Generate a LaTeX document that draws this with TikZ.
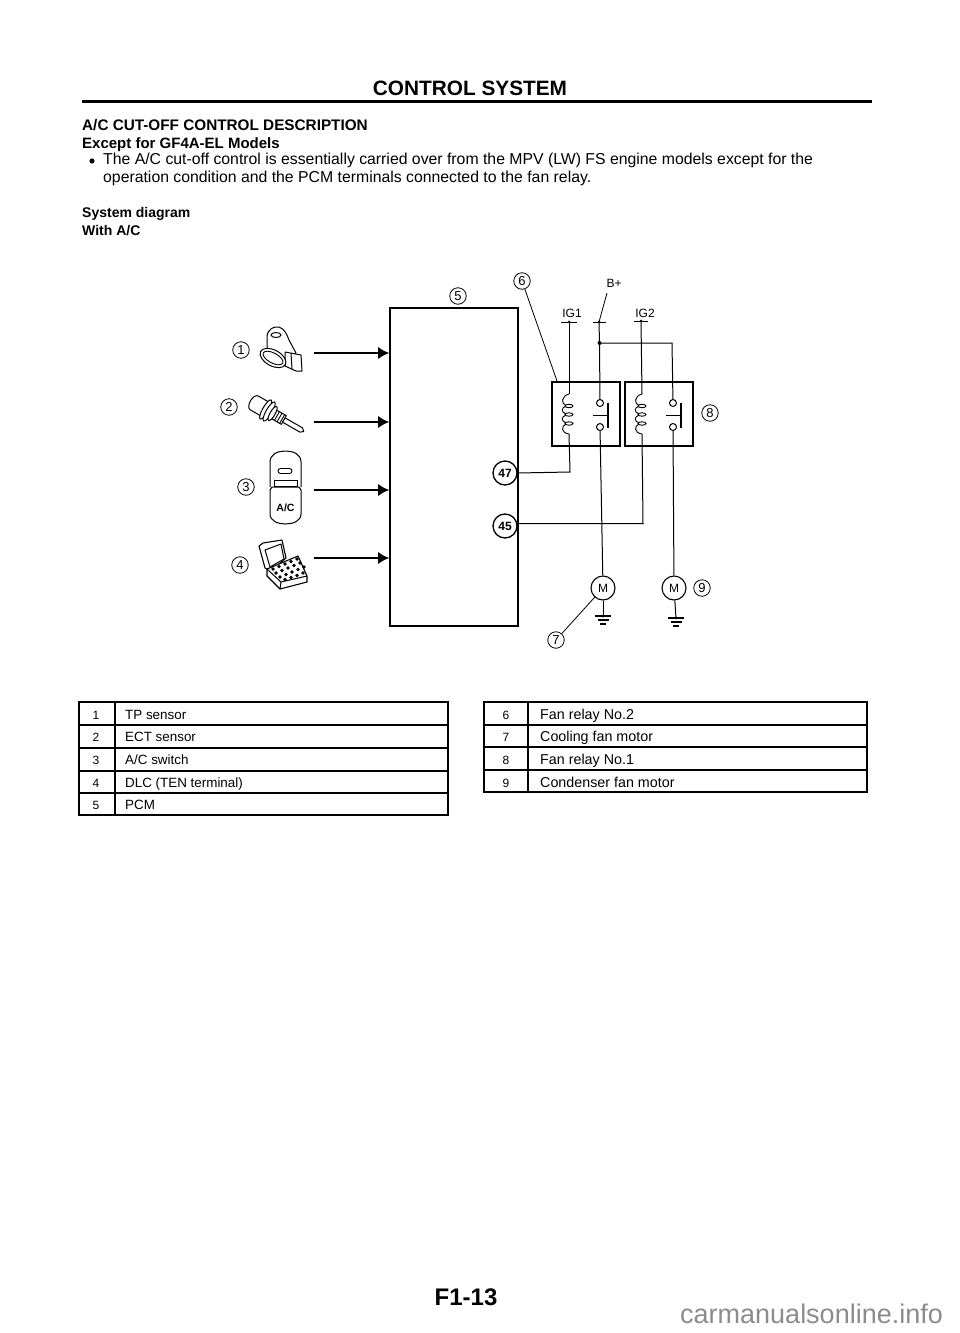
\documentclass[tikz,border=0pt]{standalone}
\usepackage{fontspec}
\setmainfont{Liberation Sans}
\usetikzlibrary{arrows.meta,calc}
\tikzset{
 body/.style={font=\fontsize{15.8}{18}\selectfont,anchor=base west,inner sep=0pt},
 bodyb/.style={font=\fontsize{15.3}{18}\bfseries\selectfont,anchor=base west,inner sep=0pt},
 bodyc/.style={font=\fontsize{14}{16}\bfseries\selectfont,anchor=base west,inner sep=0pt},
 cell/.style={font=\fontsize{13.4}{15}\selectfont,anchor=base west,inner sep=0pt},
 cellr/.style={font=\fontsize{14.3}{15}\selectfont,anchor=base west,inner sep=0pt},
 celln/.style={font=\fontsize{12}{15}\selectfont,anchor=base,inner sep=0pt},
 numc/.style={draw,circle,line width=.8pt,minimum size=16.5pt,inner sep=0pt,font=\fontsize{13}{13}\selectfont},
 pinc/.style={draw,circle,line width=1.3pt,minimum size=24pt,inner sep=0pt,font=\fontsize{12}{12}\bfseries\selectfont},
 motorc/.style={draw,circle,line width=1.1pt,minimum size=24pt,inner sep=0pt,font=\fontsize{12}{12}\selectfont},
 contact/.style={draw,circle,line width=1pt,minimum size=7pt,inner sep=0pt,fill=white},
 relaybox/.style={draw,line width=1.3pt,inner sep=0pt},
 pcmbox/.style={draw,line width=1.6pt,inner sep=0pt},
 lab/.style={font=\fontsize{12}{12}\selectfont,inner sep=0pt},
 wire/.style={line width=1pt},
 lead/.style={line width=.8pt},
 sig/.style={line width=1.4pt,-{Latex[length=11pt,width=12pt]}},
 icon/.style={line width=1pt,fill=white,line join=round},
 gridl/.style={line width=1.2pt},
 gridh/.style={line width=1.5pt}
}
\newcommand{\coilat}[1]{%
 \begin{scope}[shift={(#1,0)},line width=.9pt]
  \draw (0,394) .. controls (-8,396) and (-8,404) .. (-3,405.5);
  \draw (-3,406) .. controls (-8,408) and (-8,412) .. (-3,414);
  \draw (-3,415) .. controls (-8,417) and (-8,421) .. (-3,423);
  \draw (-3,424) .. controls (-8,426) and (-8,433) .. (0,434);
  \draw (0,406) ellipse (4 and 1.7) (0,414.5) ellipse (4 and 1.7) (0,423.5) ellipse (4 and 1.7);
 \end{scope}}
\newcommand{\groundat}[2]{%
 \draw[line width=1.1pt] (#1-8,#2) -- (#1+8,#2);
 \draw[line width=1.1pt] (#1-5.5,#2+4) -- (#1+5.5,#2+4);
 \draw[line width=1.1pt] (#1-3,#2+8) -- (#1+3,#2+8);
 \fill (#1,#2) circle (1.5);}
\begin{document}
\begin{tikzpicture}[x=1pt,y=-1pt]
\useasboundingbox (0,0) rectangle (960,1333);
\fill[white] (0,0) rectangle (960,1333);
% header
\node[font=\fontsize{20.8}{24}\bfseries\selectfont,anchor=base,inner sep=0pt] (hdr) at (470,95) {CONTROL SYSTEM};
\coordinate (ruleL) at (82,101); \coordinate (ruleR) at (872,101);
\draw[line width=3pt] (ruleL) -- (ruleR);
\node[bodyb] (t1) at (82,130) {A/C CUT-OFF CONTROL DESCRIPTION};
\node[bodyb,font=\fontsize{15}{18}\bfseries\selectfont] (t2) at (82,148) {Except for GF4A-EL Models};
\fill (92,161) circle (2.6);
\node[body] (t3) at (103,164) {The A/C cut-off control is essentially carried over from the MPV (LW) FS engine models except for the};
\node[body] (t4) at (103,182) {operation condition and the PCM terminals connected to the fan relay.};
\node[bodyc] (t5) at (82,217) {System diagram};
\node[bodyc] (t6) at (82,235) {With A/C};
% PCM
\node[pcmbox,minimum width=128pt,minimum height=318pt] (pcm) at (454,467) {};
% icons
% 1 TP sensor
\draw[icon] (267,348) -- (267,336) .. controls (268,329) and (274,326) .. (279,327) .. controls (285,329) and (287,335) .. (289,340) -- (296,353) -- (280,360) -- cycle;
\draw[icon] (276,335) ellipse (5 and 2.5);
\draw[icon] (285,352) -- (301,355) -- (302,371) -- (296,371) -- (285,366) -- cycle;
\draw[line width=1pt] (291,353) -- (292,369);
\draw[icon,rotate around={-28:(273,358)}] (273,358) ellipse (14 and 8);
\draw[line width=.9pt,rotate around={-28:(273,358)}] (273,358) ellipse (11 and 5);
\coordinate (ic1) at (314,353);
% 2 ECT sensor
\begin{scope}[shift={(270,412)},rotate=-30]
 \draw[icon] (-5,-8) -- (-18,-8) .. controls (-24,-8) and (-24,8) .. (-18,8) -- (-5,8) -- cycle;
 \draw[icon] (3,-5) rectangle (16,5);
 \foreach \t in {5,8,11,14}{\draw[line width=.9pt] (\t,-5) -- (\t,5);}
 \draw[icon] (16,-2.5) -- (36,-2.5) -- (39,0) -- (36,2.5) -- (16,2.5) -- cycle;
 \draw[icon] (-5,0) ellipse (3 and 11);
 \draw[icon] (-1,0) ellipse (3 and 11);
 \draw[icon] (3,0) ellipse (2.5 and 8);
\end{scope}
\coordinate (ic2) at (314,422);
% 3 A/C switch
\draw[icon,line width=1pt] (270,487) -- (270,462) .. controls (270,454) and (278,451) .. (285.5,451) .. controls (293,451) and (301,454) .. (301,462) -- (301,487);
\draw[icon,line width=1pt] (270,490) -- (270,514) .. controls (270,521) and (278,524) .. (285.5,524) .. controls (293,524) and (301,521) .. (301,514) -- (301,490);
\draw[line width=1pt] (270,490) -- (272,487) -- (299,487) -- (301,490);
\draw[line width=.9pt,rounded corners=2.5pt] (278,468.5) rectangle (292,473.5);
\draw[line width=.9pt] (274,480) rectangle (297,486);
\node[font=\fontsize{10.5}{11}\bfseries\selectfont,inner sep=0pt] (acsw) at (285.5,508) {A/C};
\coordinate (ic3) at (314,490);
% 4 DLC
\draw[icon,line width=1.1pt] (259,546) -- (263,543) -- (282,540) -- (286,558) -- (271,571) -- (265,568) -- cycle;
\draw[icon] (265,550) -- (281,544) -- (284,559) -- (270,567) -- cycle;
\draw[icon,line width=1.1pt] (267,569) -- (298,556) -- (307,576) -- (307,582) -- (280,589) -- (267,576) -- cycle;
\draw[line width=1pt] (267,569) -- (281,582) -- (307,576);
\draw[line width=1pt] (281,582) -- (280,589);
\foreach \a/\b in {273/569,279/566.5,285/564,291/561.5,297/559,276/573,282/570.5,288/568,294/565.5,300/563,280/577,286/574.5,292/572,298/569.5,304/567,285/579.5,291/577.5,297/575.5,303/573}{
 \fill (\a,\b) circle (1.9);
}
\coordinate (ic4) at (314,558);
% arrows to PCM
\draw[sig] (ic1) -- (pcm.west |- ic1);
\draw[sig] (ic2) -- (pcm.west |- ic2);
\draw[sig] (ic3) -- (pcm.west |- ic3);
\draw[sig] (ic4) -- (pcm.west |- ic4);
% number circles
\node[numc] (n1) at (241,350) {1};
\node[numc] (n2) at (229,407) {2};
\node[numc] (n3) at (246,487) {3};
\node[numc] (n4) at (240,565) {4};
\node[numc] (n5) at (458,296) {5};
\node[numc] (n6) at (522,281) {6};
\node[numc] (n7) at (556,640) {7};
\node[numc] (n8) at (710,413) {8};
\node[numc] (n9) at (702,588) {9};
% relays
\node[relaybox,minimum width=68pt,minimum height=64pt] (r1) at (586,414) {};
\node[relaybox,minimum width=68pt,minimum height=64pt] (r2) at (659,414) {};
% supply labels
\node[lab] (ig1) at (572,313) {IG1};
\node[lab] (ig2) at (645,313) {IG2};
\node[lab] (bp) at (614,283) {B+};
\coordinate (ig1a) at (561,322); \coordinate (ig1b) at (577,322); \coordinate (ig1c) at (569,322);
\coordinate (ig2a) at (634,321); \coordinate (ig2b) at (648,321); \coordinate (ig2c) at (641,321);
\coordinate (bpa) at (593,322); \coordinate (bpb) at (606,322); \coordinate (bpc) at (599,322);
\coordinate (bpt) at (607,293);
\coordinate (junc) at (599.5,343);
\coordinate (jr) at (672,343);
\draw[wire] (ig1a) -- (ig1b);
\draw[wire] (ig2a) -- (ig2b);
\draw[wire] (bpa) -- (bpb);
\fill (ig1c) circle (1.5) (ig2c) circle (1.5) (bpc) circle (1.5);
\draw[lead] (bpt) -- (bpc);
% contacts
\node[contact] (c1t) at (600,403) {};
\node[contact] (c1b) at (600,427) {};
\node[contact] (c2t) at (673,403) {};
\node[contact] (c2b) at (673,427) {};
% motors
\node[motorc] (m1) at (603,588) {M};
\node[motorc] (m2) at (674,588) {M};
% pins
\node[pinc] (p47) at (505,473) {47};
\node[pinc] (p45) at (505,526) {45};
% wiring
\draw[wire] (ig1c) -- (569,394);
\coilat{569}
\draw[wire] (569,434) -- (570,472) -- (p47.east);
\draw[wire] (ig2c) -- (642,394);
\coilat{642}
\draw[wire] (642,434) -- (643,523.5) -- (pcm.east |- 0,523.5);
\draw[wire] (bpc) -- (junc) -- (c1t);
\draw[wire] (junc) -- (jr) -- (c2t);
\fill (junc) circle (2);
\draw[wire] (c1b) -- (m1);
\draw[wire] (c2b) -- (m2);
% switches
\draw[line width=1.3pt] (608,403) -- (608,428);
\draw[line width=1pt] (593,415) -- (608,415);
\draw[line width=1.3pt] (681,403) -- (681,428);
\draw[line width=1pt] (666,415) -- (681,415);
% grounds
\coordinate (g1) at (603,616); \coordinate (g2) at (676,618);
\draw[wire] (m1) -- (g1);
\draw[wire] (m2) -- (g2);
\groundat{603}{616}
\groundat{676}{618}
% leaders
\coordinate (r1tip) at (557,381);
\draw[lead] (n6) -- (r1tip);
\draw[lead] (n7) -- (m1);
% tables
\coordinate (la) at (79,702); \coordinate (lb) at (448,815);
\draw[gridh] (la) rectangle (lb);
\draw[gridl] (115,702) -- (115,815);
\foreach \y in {725,748,771}{\draw[gridl] (79,\y) -- (448,\y);}
\draw[gridh] (79,793) -- (448,793);
\draw[gridh] (484,702) rectangle (867,792);
\draw[gridl] (528,702) -- (528,792);
\foreach \y in {725,747,770}{\draw[gridl] (484,\y) -- (867,\y);}
\node[celln] (a1) at (96,719) {1}; \node[cell] (b1) at (125,719) {TP sensor};
\node[celln] (a2) at (96,741) {2}; \node[cell] (b2) at (125,741) {ECT sensor};
\node[celln] (a3) at (96,764) {3}; \node[cell] (b3) at (125,764) {A/C switch};
\node[celln] (a4) at (96,787) {4}; \node[cell] (b4) at (125,787) {DLC (TEN terminal)};
\node[celln] (a5) at (96,809) {5}; \node[cell] (b5) at (125,809) {PCM};
\node[celln] (a6) at (506,719) {6}; \node[cellr] (b6) at (540,719) {Fan relay No.2};
\node[celln] (a7) at (506,741) {7}; \node[cellr] (b7) at (540,741) {Cooling fan motor};
\node[celln] (a8) at (506,764) {8}; \node[cellr] (b8) at (540,764) {Fan relay No.1};
\node[celln] (a9) at (506,787) {9}; \node[cellr] (b9) at (540,787) {Condenser fan motor};
% footer
\node[font=\fontsize{24}{26}\bfseries\selectfont,anchor=base,inner sep=0pt] (ftr) at (466,1305) {F1-13};
\node[font=\fontsize{27}{29}\selectfont,anchor=base west,inner sep=0pt,text=black!45] (wm) at (680,1323) {carmanualsonline.info};
\end{tikzpicture}
\end{document}
